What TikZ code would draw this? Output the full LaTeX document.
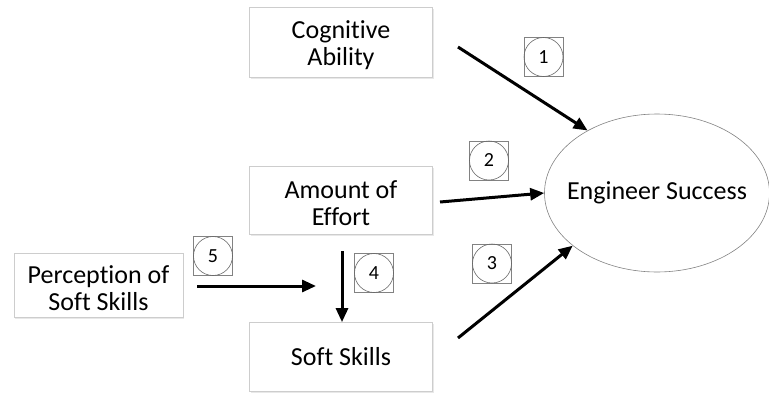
\documentclass[tikz,border=0pt]{standalone}
\usepackage{fontspec}
\setmainfont[RawFeature={-liga}]{Carlito}
\usetikzlibrary{shapes.geometric,arrows.meta,shadows}
\definecolor{boxline}{RGB}{205,205,205}
\definecolor{badgeline}{RGB}{130,130,130}
\tikzset{
  box/.style={draw=boxline, line width=0.8pt, fill=white, minimum width=#1, inner sep=0pt,
    drop shadow={opacity=0.18, shadow xshift=1.2pt, shadow yshift=-1.5pt}},
  boxtext/.style={align=center, inner sep=0pt, font=\fontsize{26}{27}\selectfont},
  arr/.style={line width=3pt, -{Triangle[length=14pt,width=12pt]}},
  badgesq/.style={draw=badgeline, line width=0.6pt, minimum size=39pt, inner sep=0pt},
  badgeci/.style={draw=badgeline!80!black, line width=0.6pt, circle, minimum size=39pt, inner sep=0pt, font=\fontsize{20}{20}\selectfont},
}
\begin{document}
\begin{tikzpicture}[x=1pt,y=-1pt]
\useasboundingbox (0,0) rectangle (769,394);
\begin{scope}
\clip (0,0) rectangle (769,394);
% boxes
\node[box=183pt, minimum height=70pt] (cog) at (341,42) {};
\node[boxtext] (cogt) at ([yshift=-3pt]cog.center) {Cognitive\\Ability};
\node[box=183pt, minimum height=68pt] (eff) at (341,200) {};
\node[boxtext] (efft) at ([yshift=-3pt]eff.center) {Amount of\\Effort};
\node[box=183pt, minimum height=69pt] (soft) at (341,357) {};
\node[boxtext] (softt) at (soft.center) {Soft Skills};
\node[box=169pt, minimum height=64pt] (perc) at (98.5,285) {};
\node[boxtext] (perct) at ([yshift=-3pt]perc.center) {Perception of\\Soft Skills};
% ellipse
\node[ellipse, draw=badgeline, line width=0.6pt, minimum width=225pt, minimum height=158pt, inner sep=0pt] (es) at (657,193) {};
\node[boxtext] (estext) at (es.center) {Engineer Success};
\end{scope}
% connector start points
\coordinate (s1) at (458,47);
\coordinate (s2) at (440,202);
\coordinate (s3) at (458,338);
\coordinate (s4) at (342,251);
\coordinate (s5) at (197,286);
\coordinate (e5) at (316,286);
\draw[arr] (s1) -- (es.138.9);
\draw[arr] (s2) -- (es.180);
\draw[arr] (s3) -- (es.212.2);
\draw[arr] (s4) -- (soft.north -| s4);
\draw[arr] (s5) -- (e5);
% badges
\foreach \n/\x/\y in {1/543.5/57, 2/489/160.5, 3/492/263.5, 4/374/273, 5/213/256}{
  \node[badgesq] (bs\n) at (\x,\y) {};
  \node[badgeci] (bc\n) at (bs\n.center) {\n};
}
\end{tikzpicture}
\end{document}
